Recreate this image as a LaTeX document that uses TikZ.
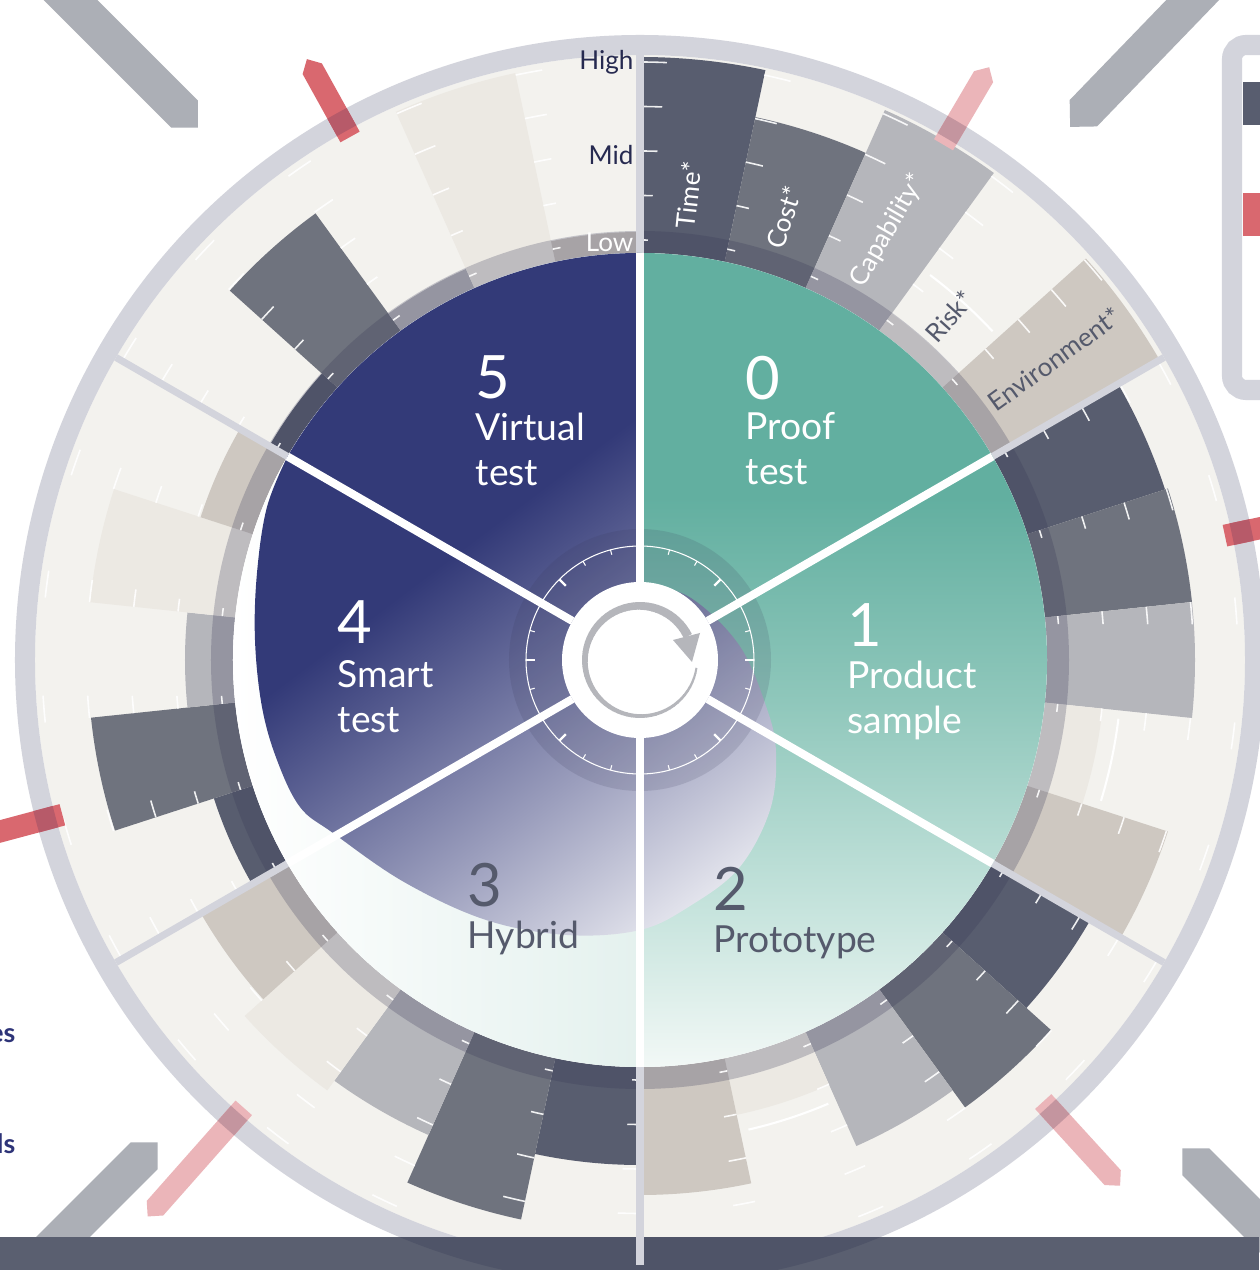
\documentclass[tikz,border=0pt]{standalone}
\usepackage{fontspec}
\setmainfont{Lato}
\usepackage{xcolor}
\usepackage{tikz}
\usetikzlibrary{positioning}
\definecolor{TealMain}{HTML}{62AFA0}
\definecolor{TealMid}{HTML}{8FC7BB}
\definecolor{TealLight}{HTML}{C5E3DC}
\definecolor{TealEnd}{HTML}{F2F8F6}
\definecolor{TealPale}{HTML}{E4F1EE}
\definecolor{NavyMain}{HTML}{333A78}
\definecolor{NavyMid}{HTML}{9A9DBC}
\definecolor{bar0}{HTML}{585D6F}
\definecolor{bar1}{HTML}{6F737E}
\definecolor{bar2}{HTML}{B5B6BB}
\definecolor{bar3}{HTML}{ECE9E3}
\definecolor{bar4}{HTML}{CEC8C1}
\definecolor{Cream}{HTML}{F3F2EE}
\definecolor{RingGray}{HTML}{D3D4DC}
\definecolor{BandInk}{HTML}{363656}
\definecolor{PointerGray}{HTML}{ACAFB6}
\definecolor{MarkRed}{HTML}{D9686F}
\definecolor{MarkRedRing}{HTML}{B75A69}
\definecolor{MarkPink}{HTML}{EBB5B9}
\definecolor{MarkPinkRing}{HTML}{C4959F}
\definecolor{FooterGray}{HTML}{5A5F70}
\definecolor{FooterDark}{HTML}{4F5468}
\definecolor{AxisNavy}{HTML}{262A50}
\definecolor{LabelGray}{HTML}{555A6C}
\definecolor{ArrowGray}{HTML}{B5B6BB}
\definecolor{FragNavy}{HTML}{2E3478}
\pgfdeclareverticalshading{tealfade}{100bp}{color(0bp)=(TealEnd); color(25bp)=(TealEnd); color(35bp)=(TealLight); color(47.5bp)=(TealMid); color(60bp)=(TealMain); color(100bp)=(TealMain)}
\pgfdeclarehorizontalshading{navyfade}{100bp}{color(0bp)=(NavyMain); color(43bp)=(NavyMain); color(52bp)=(NavyMid); color(60.5bp)=(white); color(100bp)=(white)}

\begin{document}
\begin{tikzpicture}[x=0.01cm, y=0.01cm,
    tick/.style={white, opacity=0.9, line width=0.45pt},
    numlabel/.style={anchor=north west, inner sep=0pt, font=\fontsize{17}{17}\selectfont},
    namelabel/.style={anchor=north west, inner sep=0pt, align=left, font=\fontsize{10.6}{12.8}\selectfont},
    barlabel/.style={anchor=west, inner sep=0pt, font=\fontsize{7.4}{8}\selectfont},
    axislabel/.style={anchor=east, inner sep=0pt, font=\fontsize{7.4}{8}\selectfont},
    fragment/.style={anchor=base east, inner sep=0pt, text=FragNavy, font=\bfseries\fontsize{7.6}{8}\selectfont}]
\useasboundingbox (-640,-610) rectangle (619,660);
\fill[white] (-640,-610) rectangle (619,660);
% pointers in the corners
\foreach \ang/\tip/\dir in {129.7/692/135, 51.1/685/46, 225/682/225, 318/730/315}
    \fill[PointerGray, shift={(\ang:\tip)}, rotate=\dir] (0,0) -- (19,-19) -- (400,-19) -- (400,19) -- (19,19) -- cycle;
% ring of bars
\fill[Cream] (0,0) circle (605);
\foreach \vals [count=\s from 0] in {{603,555,602,428,600},{552,555,555,465,555},{520,553,532,465,535},{505,572,520,532,507},{448,552,455,553,462},{428,552,428,600,428}} {
    \foreach \r [count=\k from 0] in \vals {
        \pgfmathsetmacro\aA{90-60*\s-12*\k}
        \pgfmathsetmacro\aB{\aA-12}
        \fill[bar\k] (\aA:407) arc[start angle=\aA, end angle=\aB, radius=407] -- (\aB:\r) arc[start angle=\aB, end angle=\aA, radius=\r] -- cycle;
    }
}
\fill[BandInk, opacity=0.25, even odd rule] (0,0) circle (429) circle (407);
\foreach \a in {54,-6,-66} {
    \pgfmathsetmacro\aA{\a-1}
    \pgfmathsetmacro\aB{\a-11}
    \draw[white, line width=0.6pt] (\aA:482) arc[start angle=\aA, end angle=\aB, radius=482];
}
\foreach \b in {0,...,29} {
    \foreach \i in {0,...,4} {
        \pgfmathsetmacro\aA{90-12*\b}
        \pgfmathsetmacro\rr{420+44.5*\i}
        \pgfmathsetmacro\aB{\aA-(8+4.75*\i)/\rr*57.3}
        \draw[tick] (\aA:\rr) arc[start angle=\aA, end angle=\aB, radius=\rr];
    }
}
\fill[RingGray, even odd rule] (0,0) circle (625) circle (605);
% footer band
\fill[FooterGray] (-640,-577) rectangle (619,-610);
\begin{scope}
    \clip (0,0) circle (625);
    \fill[FooterDark] (-640,-577) rectangle (619,-610);
\end{scope}
\foreach \a in {90,30,-30,-90,-150,150}
    \draw[RingGray, line width=2pt] (\a:407) -- (\a:605);
% inner pie
\fill[white] (0,0) circle (407);
\shade[left color=white, middle color=white, right color=TealPale] (0,407) arc[start angle=90, end angle=270, radius=407] -- cycle;
\shade[shading=tealfade] (0,-407) arc[start angle=-90, end angle=90, radius=407] -- cycle;
\begin{scope}
    \clip (90:407) arc[start angle=90, end angle=150, radius=407] -- plot[smooth, tension=0.6] coordinates {(-352.5,203.5) (-373,153) (-383,87) (-385,20) (-378,-47) (-363,-100) (-340,-147) (-307,-173) (-236,-222) (-154,-260) (-73,-275) (0,-270) (50,-246) (99,-208) (130,-150) (136,-92) (126,-46) (99,15) (51,62) (4,77)} -- (0,77) -- cycle;
    \begin{scope}[transform canvas={rotate=-53}]
        \shade[shading=navyfade] (-700,-700) rectangle (700,700);
    \end{scope}
\end{scope}
% dial in the middle
\fill[BandInk, opacity=0.15, even odd rule] (0,0) circle (131) circle (78);
\draw[white, line width=0.3pt] (0,0) circle (114);
\foreach \a in {15,60,75,105,120,165,195,240,255,285,300,345}
    \draw[white, line width=0.3pt] (\a:114) -- (\a:109);
\foreach \a in {0,45,135,180,225,315}
    \draw[white, line width=0.7pt] (\a:114) -- (\a:105);
\foreach \a in {90,30,-30,-90,-150,150}
    \draw[white, line width=2.3pt] (\a:78) -- (\a:407);
\fill[white] (0,0) circle (78);
\foreach \i in {0,...,64} {
    \pgfmathsetmacro\w{2+7*\i/64}
    \pgfmathsetmacro\aA{-8-5*\i}
    \pgfmathsetmacro\aB{\aA-5.6}
    \pgfmathsetmacro\rr{58-\w/2}
    \draw[ArrowGray, line width=\w*0.2845pt] (\aA:\rr) arc[start angle=\aA, end angle=\aB, radius=\rr];
}
\fill[ArrowGray] (33,20) -- (60,27) -- (52,-2) -- cycle;
% stage labels
\node[numlabel, text=white] (num0) at (105,305) {0};
\node[namelabel, text=white] (name0) at (105,248) {Proof\\test};
\node[numlabel, text=white] (num1) at (207,57) {1};
\node[namelabel, text=white] (name1) at (207,0) {Product\\sample};
\node[numlabel, text=LabelGray] (num2) at (73,-206) {2};
\node[namelabel, text=LabelGray] (name2) at (73,-265) {Prototype};
\node[numlabel, text=LabelGray] (num3) at (-173,-202) {3};
\node[namelabel, text=LabelGray] (name3) at (-173,-260) {Hybrid};
\node[numlabel, text=white] (num4) at (-303,60) {4};
\node[namelabel, text=white] (name4) at (-303,0) {Smart\\test};
\node[numlabel, text=white] (num5) at (-165,305) {5};
\node[namelabel, text=white] (name5) at (-165,248) {Virtual\\test};
% scale and criteria
\node[axislabel, text=AxisNavy] (high) at (-6,598) {High};
\node[axislabel, text=AxisNavy] (mid) at (-6,505) {Mid};
\node[axislabel, text=white] (low) at (-6,418) {Low};
\foreach \txt/\ang/\col [count=\j] in {Time*/84/white, Cost*/72/white, Capability*/60/white, Risk*/48/LabelGray, Environment*/36/LabelGray}
    \node[barlabel, text=\col, rotate=\ang] (crit\j) at (\ang:433) {\txt};
% markers across the rim
\foreach \ang/\len/\col/\colring in {119/687/MarkRed/MarkRedRing, 59.5/688/MarkPink/MarkPinkRing, 12/690/MarkRed/MarkRedRing, 195/688/MarkRed/MarkRedRing, 228.5/743/MarkPink/MarkPinkRing, 312.4/712/MarkPink/MarkPinkRing} {
    \fill[\col, rotate=\ang] (598,-11) -- (\len-11,-11) -- (\len,0) -- (\len-11,11) -- (598,11) -- cycle;
    \begin{scope}
        \clip (625,0) arc[start angle=0, end angle=360, radius=625] -- (605,0) arc[start angle=360, end angle=0, radius=605] -- cycle;
        \fill[\colring, rotate=\ang] (598,-11) -- (\len-11,-11) -- (\len,0) -- (\len-11,11) -- (598,11) -- cycle;
    \end{scope}
}
% legend
\draw[RingGray, line width=5.7pt, fill=white, rounded corners=4pt] (592,615) rectangle (720,270);
\fill[bar0] (603,578) rectangle (640,535);
\fill[MarkRed] (603,467) rectangle (640,424);
\node[fragment] (frag1) at (-624,-382) {es};
\node[fragment] (frag2) at (-624,-493) {ls};
\end{tikzpicture}
\end{document}
